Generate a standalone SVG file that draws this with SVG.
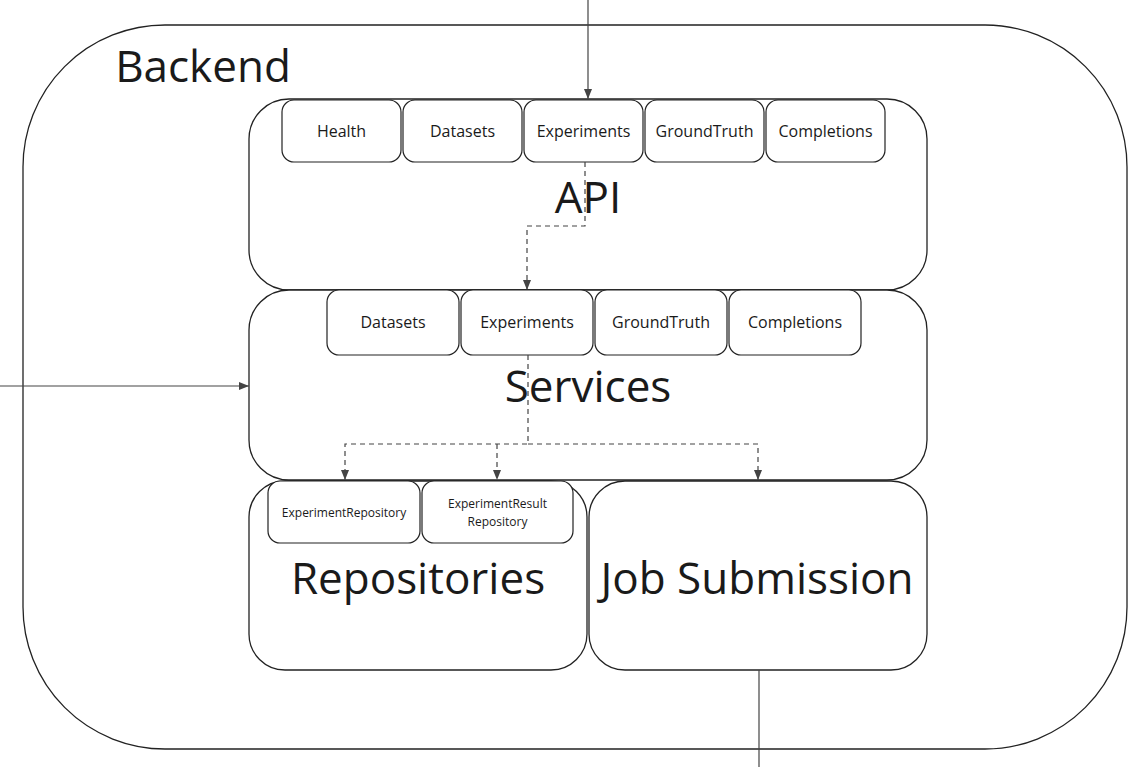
<svg xmlns="http://www.w3.org/2000/svg" width="1147" height="767" viewBox="0 0 1147 767">
<defs>
<marker id="ah" viewBox="0 0 10 10" refX="10" refY="5" markerWidth="10" markerHeight="10" markerUnits="userSpaceOnUse" orient="auto">
<path d="M0,1 L10,5 L0,9 z" fill="#444"/>
</marker>
</defs>
<style>
.box{fill:#fff;stroke:#222;stroke-width:1.3}
.sub{fill:#fff;stroke:#222;stroke-width:1.2}
.big{font-family:"Open Sans","Noto Sans",sans-serif;font-size:44px;fill:#1a1a1a;text-anchor:middle}
.lbl{font-family:"Open Sans","Noto Sans",sans-serif;font-size:16px;fill:#1a1a1a;text-anchor:middle}
.sm{font-family:"Open Sans","Noto Sans",sans-serif;font-size:12px;fill:#1a1a1a;text-anchor:middle}
.ln{fill:none;stroke:#444;stroke-width:1.2}
.dash{fill:none;stroke:#444;stroke-width:1.2;stroke-dasharray:5 4}
</style>
<rect width="1147" height="767" fill="#fff"/>
<g id="backend">
<rect class="box" x="23" y="25" width="1104" height="724" rx="142" ry="142"/>
<text class="big" x="203" y="82">Backend</text>
</g>
<g id="api">
<rect class="box" x="249" y="99" width="678" height="191" rx="40" ry="40"/>
<text class="big" x="588" y="213">API</text>
</g>
<g id="api-health"><rect class="sub" x="282" y="100" width="119" height="62" rx="12"/><text class="lbl" x="341.5" y="137">Health</text></g>
<g id="api-datasets"><rect class="sub" x="403" y="100" width="119" height="62" rx="12"/><text class="lbl" x="462.5" y="137">Datasets</text></g>
<g id="api-experiments"><rect class="sub" x="524" y="100" width="119" height="62" rx="12"/><text class="lbl" x="583.5" y="137">Experiments</text></g>
<g id="api-groundtruth"><rect class="sub" x="645" y="100" width="119" height="62" rx="12"/><text class="lbl" x="704.5" y="137">GroundTruth</text></g>
<g id="api-completions"><rect class="sub" x="766" y="100" width="119" height="62" rx="12"/><text class="lbl" x="825.5" y="137">Completions</text></g>
<g id="services">
<rect class="box" x="249" y="290" width="678" height="190" rx="40" ry="40"/>
<text class="big" x="588" y="402">Services</text>
</g>
<g id="svc-datasets"><rect class="sub" x="327" y="290" width="132" height="65" rx="12"/><text class="lbl" x="393" y="328">Datasets</text></g>
<g id="svc-experiments"><rect class="sub" x="461" y="290" width="132" height="65" rx="12"/><text class="lbl" x="527" y="328">Experiments</text></g>
<g id="svc-groundtruth"><rect class="sub" x="595" y="290" width="132" height="65" rx="12"/><text class="lbl" x="661" y="328">GroundTruth</text></g>
<g id="svc-completions"><rect class="sub" x="729" y="290" width="132" height="65" rx="12"/><text class="lbl" x="795" y="328">Completions</text></g>
<g id="repositories">
<rect class="box" x="249" y="481" width="338" height="189" rx="36" ry="36"/>
<text class="big" x="418" y="594">Repositories</text>
</g>
<g id="repo-experiment"><rect class="sub" x="268" y="481" width="152" height="62" rx="12"/><text class="sm" x="344" y="517">ExperimentRepository</text></g>
<g id="repo-result"><rect class="sub" x="422" y="481" width="151" height="62" rx="12"/><text class="sm" x="497.5" y="508">ExperimentResult</text><text class="sm" x="497.5" y="526">Repository</text></g>
<g id="job-submission">
<rect class="box" x="589" y="481" width="338" height="189" rx="36" ry="36"/>
<text class="big" x="757" y="594">Job Submission</text>
</g>
<g id="connectors">
<path class="ln" d="M588,0 V99" marker-end="url(#ah)"/>
<path class="ln" d="M0,386 H249" marker-end="url(#ah)"/>
<path class="dash" d="M585,162 V226 H527 V290" marker-end="url(#ah)"/>
<path class="dash" d="M528,355 V444 H345 V480" marker-end="url(#ah)"/>
<path class="dash" d="M497,444 V480" marker-end="url(#ah)"/>
<path class="dash" d="M528,444 H758 V480" marker-end="url(#ah)"/>
<path class="ln" d="M759,670 V767"/>
</g>
</svg>
